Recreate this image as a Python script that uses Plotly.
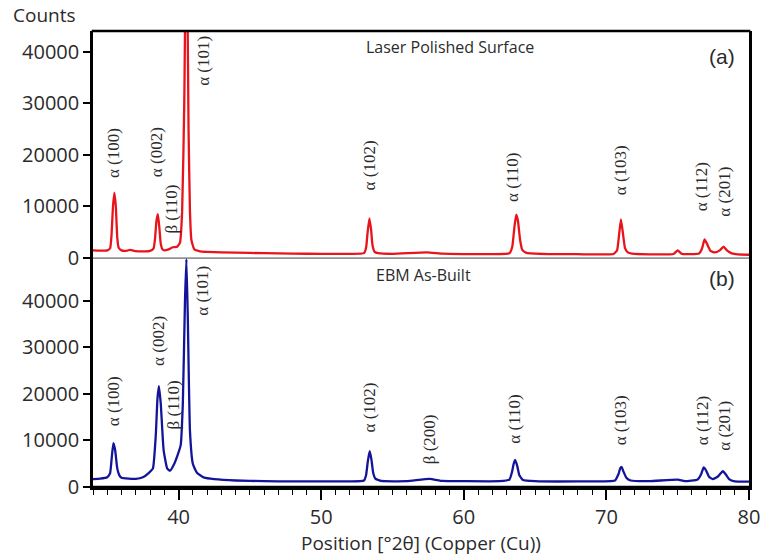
import plotly.graph_objects as go

# ---------------- data ----------------
two_theta_laser = [34.0, 34.5, 35.0, 35.2, 35.3, 35.4, 35.5, 35.6, 35.7, 35.8, 36.0, 36.4, 36.6, 37.0, 37.5, 38.0,
                   38.25, 38.35, 38.45, 38.55, 38.65, 38.75, 38.85, 39.0, 39.3, 39.6, 39.9, 40.1, 40.25, 40.4,
                   40.55, 40.7, 40.8, 40.9, 41.1, 41.5, 42.0, 44.0, 46.0, 48.0, 50.0, 52.0, 53.0, 53.15, 53.25,
                   53.38, 53.5, 53.6, 53.75, 54.0, 55.0, 57.4, 58.5, 60.0, 62.0, 63.2, 63.4, 63.55, 63.68,
                   63.8, 63.95, 64.1, 64.4, 66.0, 68.0, 70.5, 70.75, 70.9, 71.02, 71.15, 71.3, 71.5, 71.8,
                   73.0, 74.7, 75.0, 75.3, 76.5, 76.7, 76.88, 77.05, 77.3, 77.6, 77.95, 78.22, 78.45, 78.8,
                   79.2, 80.0]
counts_laser = [1500, 1450, 1500, 1900, 4500, 10000, 12700, 10000, 4000, 2000, 1500, 1450, 1600, 1350, 1300, 1400,
                1900, 3800, 7200, 8500, 6000, 2800, 1800, 1500, 1700, 2100, 2200, 3000, 9000, 30000,
                70000, 25000, 9000, 3500, 1700, 1300, 1200, 1050, 950, 850, 830, 820, 950, 2000, 4800,
                7700, 5500, 2500, 1200, 950, 820, 1100, 850, 780, 780, 950, 2200, 6000, 8400,
                7200, 3500, 1600, 1000, 780, 750, 800, 1500, 4800, 7500, 5000, 2000, 1100, 850,
                730, 800, 1500, 800, 900, 1800, 3600, 2800, 1400, 1100, 1500, 2200, 1500, 900,
                700, 650]

two_theta_ebm = [34.0, 34.5, 35.0, 35.2, 35.32, 35.43, 35.55, 35.7, 35.85, 36.0, 36.5, 37.0, 37.5, 37.9, 38.2,
                 38.4, 38.52, 38.62, 38.75, 38.95, 39.2, 39.4, 39.7, 39.95, 40.15, 40.3, 40.45, 40.55, 40.65,
                 40.8, 41.0, 41.3, 41.8, 42.5, 44.0, 46.0, 48.0, 50.0, 52.0, 53.0, 53.15, 53.27, 53.4,
                 53.52, 53.65, 53.8, 54.2, 56.0, 57.6, 58.5, 60.0, 62.5, 63.2, 63.38, 63.5, 63.6, 63.75,
                 63.9, 64.15, 65.0, 68.0, 70.6, 70.85, 70.97, 71.07, 71.2, 71.4, 71.7, 73.0, 75.0, 75.5,
                 76.4, 76.65, 76.82, 76.98, 77.2, 77.45, 77.8, 78.0, 78.17, 78.35, 78.6, 79.0, 80.0]
counts_ebm = [1700, 1800, 2100, 3000, 6500, 9400, 8000, 4000, 2500, 2000, 1800, 1750, 2100, 3000, 4000,
              11000, 19000, 21700, 18000, 8000, 4000, 3500, 5000, 7000, 9000, 18000, 40000, 49000, 36000,
              12000, 5000, 3000, 2000, 1700, 1400, 1250, 1200, 1200, 1200, 1400, 2600, 5500, 7700,
              6000, 3000, 1800, 1300, 1250, 1750, 1300, 1250, 1250, 1600, 3200, 5000, 5800, 4500,
              2500, 1500, 1250, 1200, 1400, 2800, 4000, 4300, 3300, 2000, 1400, 1250, 1600, 1250,
              1600, 2800, 4200, 3600, 2200, 1700, 2200, 2900, 3400, 2800, 1700, 1200, 1150]

laser_labels = ["α (100)", "α (002)", "β (110)", "α (101)", "α (102)", "α (110)", "α (103)", "α (112)", "α (201)"]
laser_label_x = [35.49, 38.47, 39.52, 41.70, 53.39, 63.45, 71.05, 76.67, 78.30]
laser_label_y = [20400, 20470, 9540, 38180, 17860, 15730, 17090, 13800, 12830]

ebm_labels = ["α (100)", "α (002)", "β (110)", "α (101)", "α (102)", "β (200)", "α (110)", "α (103)", "α (112)", "α (201)"]
ebm_label_x = [35.49, 38.63, 39.71, 41.70, 53.39, 57.65, 63.57, 71.05, 76.79, 78.30]
ebm_label_y = [18490, 31400, 17630, 42150, 16990, 10320, 14620, 14400, 14190, 13120]

y_ticks = [0, 10000, 20000, 30000, 40000]
x_ticks = [40, 50, 60, 70, 80]

# ---------------- figure ----------------
SANS = "Open Sans"
SERIF = "Liberation Serif"
TXT = "#2b2b2b"
SPLIT = 0.502
PLOT_H = 456.0


def py(px):
    """paper y from pixel row (plot area spans rows 31..487)"""
    return (487.0 - px) / PLOT_H


def pxx(px):
    """paper x from pixel column (plot area spans columns 93..749)"""
    return (px - 93.0) / 656.0


fig = go.Figure()
fig.add_trace(go.Scatter(x=two_theta_laser, y=counts_laser, mode="lines",
                         line=dict(color="#e8141c", width=2.3, shape="spline", smoothing=0.4),
                         xaxis="x", yaxis="y", showlegend=False, hoverinfo="skip"))
fig.add_trace(go.Scatter(x=two_theta_ebm, y=counts_ebm, mode="lines",
                         line=dict(color="#14149a", width=2.3, shape="spline", smoothing=0.4),
                         xaxis="x", yaxis="y2", showlegend=False, hoverinfo="skip"))

annotations = []
for t, x, y in zip(laser_labels, laser_label_x, laser_label_y):
    annotations.append(dict(text=t, x=x, y=y, xref="x", yref="y", showarrow=False,
                            textangle=-90, font=dict(family=SERIF, size=17, color=TXT)))
for t, x, y in zip(ebm_labels, ebm_label_x, ebm_label_y):
    annotations.append(dict(text=t, x=x, y=y, xref="x", yref="y2", showarrow=False,
                            textangle=-90, font=dict(family=SERIF, size=17, color=TXT)))

annotations += [
    dict(text="Counts", x=pxx(11), y=py(15), xref="paper", yref="paper", showarrow=False,
         xanchor="left", yanchor="middle", font=dict(family=SANS, size=19, color=TXT)),
    dict(text="Laser Polished Surface", x=pxx(450), y=py(47), xref="paper", yref="paper", showarrow=False,
         xanchor="center", yanchor="middle", font=dict(family=SANS, size=16, color=TXT)),
    dict(text="EBM As-Built", x=pxx(424), y=py(275), xref="paper", yref="paper", showarrow=False,
         xanchor="center", yanchor="middle", font=dict(family=SANS, size=16, color=TXT)),
    dict(text="(a)", x=pxx(722), y=py(57), xref="paper", yref="paper", showarrow=False,
         xanchor="center", yanchor="middle", font=dict(family="Liberation Sans", size=21, color=TXT)),
    dict(text="(b)", x=pxx(722), y=py(278), xref="paper", yref="paper", showarrow=False,
         xanchor="center", yanchor="middle", font=dict(family="Liberation Sans", size=21, color=TXT)),
    dict(text="Position [°2θ] (Copper (Cu))", x=pxx(421), y=py(543), xref="paper", yref="paper",
         showarrow=False, xanchor="center", yanchor="middle", font=dict(family=SANS, size=19, color=TXT)),
]

axis_common = dict(showgrid=False, zeroline=False, ticks="outside", tickcolor="black",
                   tickwidth=1.5, tickfont=dict(family=SANS, size=20, color=TXT), automargin=False)

fig.update_layout(
    width=762, height=558,
    margin=dict(l=93, r=13, t=31, b=71, autoexpand=False),
    plot_bgcolor="white", paper_bgcolor="white",
    xaxis=dict(range=[34, 80], anchor="y2", tickvals=x_ticks, ticklen=10,
               showline=True, linecolor="black", linewidth=2.5,
               minor=dict(ticks="outside", ticklen=5, dtick=1, tick0=0, tickcolor="black", tickwidth=1.2),
               **axis_common),
    yaxis=dict(range=[0, 44000], domain=[SPLIT, 1], anchor="x", tickvals=y_ticks, tickformat="d",
               ticklen=7, showline=True, mirror=True, linecolor="black", linewidth=2.5, **axis_common),
    yaxis2=dict(range=[0, 49200], domain=[0, SPLIT], anchor="x", tickvals=y_ticks, tickformat="d",
                ticklen=7, showline=True, mirror=True, linecolor="black", linewidth=2.5, **axis_common),
    annotations=annotations,
    shapes=[
        dict(type="line", xref="paper", yref="paper", x0=-0.002, x1=1.002, y0=1, y1=1,
             line=dict(color="black", width=2.5), layer="above"),
        dict(type="line", xref="paper", yref="paper", x0=-0.002, x1=1.002, y0=0, y1=0,
             line=dict(color="black", width=2.5), layer="above"),
        dict(type="line", xref="paper", yref="paper", x0=0, x1=1, y0=SPLIT, y1=SPLIT,
             line=dict(color="#444", width=1), layer="above"),
    ],
)

fig.write_html("out.html", config={"displayModeBar": False},
               post_script="document.body.style.margin='0';document.body.style.overflow='hidden';")
